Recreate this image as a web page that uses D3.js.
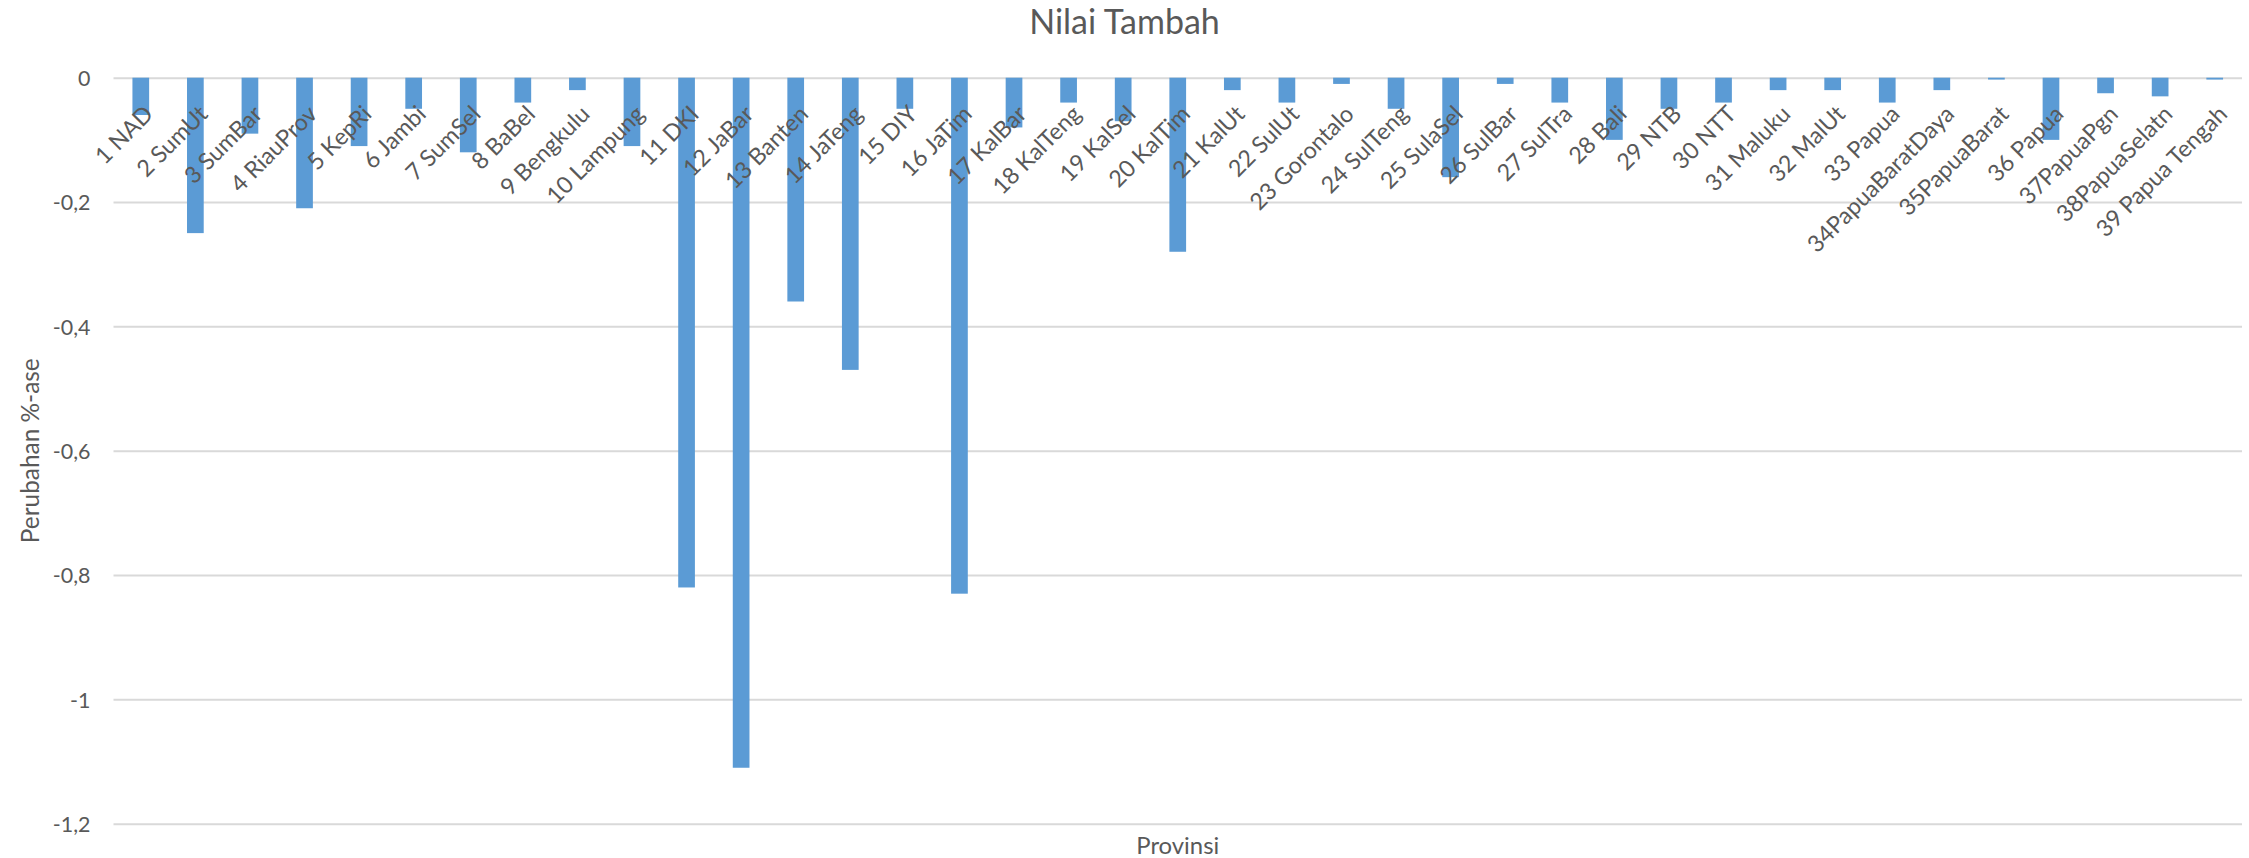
<!DOCTYPE html>
<html>
<head>
<meta charset="utf-8">
<script src="https://cdn.jsdelivr.net/npm/d3@7"></script>
<style>
  html, body { margin: 0; padding: 0; background: #fff; }
  svg { display: block; }
  text { font-family: Lato, "Open Sans", sans-serif; fill: #595959; }
</style>
</head>
<body>
<svg id="chart" width="2249" height="858"></svg>
<script>
// Perubahan nilai tambah per provinsi (%)
const categories = ["1 NAD","2 SumUt","3 SumBar","4 RiauProv","5 KepRi","6 Jambi","7 SumSel","8 BaBel","9 Bengkulu","10 Lampung","11 DKI","12 JaBar","13 Banten","14 JaTeng","15 DIY","16 JaTim","17 KalBar","18 KalTeng","19 KalSel","20 KalTim","21 KalUt","22 SulUt","23 Gorontalo","24 SulTeng","25 SulaSel","26 SulBar","27 SulTra","28 Bali","29 NTB","30 NTT","31 Maluku","32 MalUt","33 Papua","34PapuaBaratDaya","35PapuaBarat","36 Papua","37PapuaPgn","38PapuaSelatn","39 Papua Tengah"];
const values = [-0.06,-0.25,-0.09,-0.21,-0.11,-0.05,-0.12,-0.04,-0.02,-0.11,-0.82,-1.11,-0.36,-0.47,-0.05,-0.83,-0.08,-0.04,-0.07,-0.28,-0.02,-0.04,-0.01,-0.05,-0.16,-0.01,-0.04,-0.10,-0.05,-0.04,-0.02,-0.02,-0.04,-0.02,-0.003,-0.10,-0.025,-0.03,-0.003];
const tickValues = [0, -0.2, -0.4, -0.6, -0.8, -1, -1.2];
const tickLabels = ["0", "-0,2", "-0,4", "-0,6", "-0,8", "-1", "-1,2"];

const chartTitle = "Nilai Tambah";
const xTitle = "Provinsi";
const yTitle = "Perubahan %-ase";

const W = 2249, H = 858;
const plot = { left: 113.5, right: 2242, top: 77.7, bottom: 823.7 };

const svg = d3.select("#chart");

// Scale a text element's font size so its rendered width equals `width`
function fitWidth(sel, width) {
  sel.each(function () {
    const el = d3.select(this);
    const fs = parseFloat(el.attr("font-size"));
    const len = this.getComputedTextLength();
    if (len > 0) el.attr("font-size", (fs * width / len).toFixed(2));
  });
}

const x = d3.scaleBand()
  .domain(categories)
  .range([plot.left, plot.right])
  .paddingInner(0.694)
  .paddingOuter(0.347);

const y = d3.scaleLinear()
  .domain([-1.2, 0])
  .range([plot.bottom, plot.top]);

// Horizontal gridlines with value labels
const yAxis = d3.axisLeft(y)
  .tickValues(tickValues)
  .tickFormat((d, i) => tickLabels[i])
  .tickSize(-(plot.right - plot.left))
  .tickPadding(23);

const gy = svg.append("g")
  .attr("transform", `translate(${plot.left},0)`)
  .call(yAxis);
gy.select(".domain").remove();
gy.selectAll(".tick line")
  .attr("stroke", "#d9d9d9")
  .attr("stroke-width", 2);
const tickText = gy.selectAll(".tick text")
  .attr("font-size", 21)
  .attr("dy", "0.36em")
  .style("font-family", "Lato, 'Open Sans', sans-serif")
  .attr("fill", "#595959");
// "-1,2" spans about 38px
const refTick = tickText.filter((d, i) => i === tickValues.length - 1);
fitWidth(refTick, 37.7);
tickText.attr("font-size", refTick.attr("font-size"));

// Bars
svg.append("g")
  .selectAll("rect")
  .data(values)
  .join("rect")
  .attr("x", (d, i) => x(categories[i]))
  .attr("width", x.bandwidth())
  .attr("y", y(0))
  .attr("height", d => y(d) - y(0))
  .attr("fill", "#5b9bd5");

// Category labels, rotated under the zero line
const xAxis = d3.axisBottom(x).tickSize(0).tickPadding(0);
const gx = svg.append("g")
  .attr("transform", `translate(0,${y(0)})`)
  .call(xAxis);
gx.select(".domain").remove();
const catText = gx.selectAll(".tick text")
  .attr("font-size", 22)
  .attr("text-anchor", "end")
  .attr("y", 0)
  .attr("dy", "0.72em")
  .attr("transform", "translate(2,26) rotate(-45)")
  .style("font-family", "Lato, 'Open Sans', sans-serif")
  .attr("fill", "#595959");
const refCat = catText.filter(d => d === "34PapuaBaratDaya");
fitWidth(refCat, 196);
catText.attr("font-size", refCat.attr("font-size"));

// Titles
svg.append("text")
  .attr("x", W / 2)
  .attr("y", 34.3)
  .attr("text-anchor", "middle")
  .attr("font-size", 32)
  .text(chartTitle)
  .call(fitWidth, 190.7);

svg.append("text")
  .attr("x", (plot.left + plot.right) / 2)
  .attr("y", 854)
  .attr("text-anchor", "middle")
  .attr("font-size", 24)
  .text(xTitle)
  .call(fitWidth, 83);

svg.append("text")
  .attr("transform", `translate(39.3,${(plot.top + plot.bottom) / 2}) rotate(-90)`)
  .attr("text-anchor", "middle")
  .attr("font-size", 24)
  .text(yTitle)
  .call(fitWidth, 185);
</script>
</body>
</html>
